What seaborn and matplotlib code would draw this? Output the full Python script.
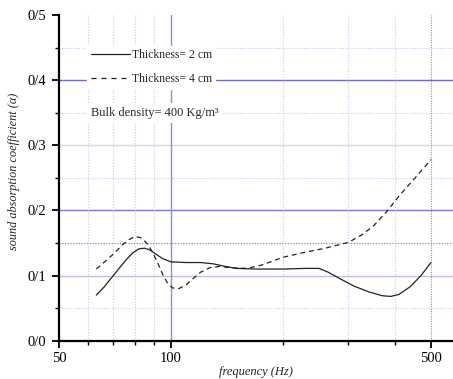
import matplotlib
matplotlib.use("Agg")
import matplotlib.pyplot as plt
import seaborn as sns
import pandas as pd
from matplotlib.lines import Line2D

# ---- data ----
freq_2cm = [63, 66, 70, 73, 76, 79, 82, 85, 88, 91, 95, 100, 110, 120, 130, 140,
            150, 170, 200, 230, 250, 265, 285, 310, 340, 370, 390, 410, 440, 470, 500]
alpha_2cm = [0.070, 0.082, 0.100, 0.113, 0.125, 0.135, 0.141, 0.142, 0.139, 0.133,
             0.126, 0.121, 0.120, 0.120, 0.118, 0.114, 0.111, 0.110, 0.110, 0.111,
             0.111, 0.105, 0.095, 0.084, 0.075, 0.069, 0.068, 0.071, 0.083, 0.100, 0.120]

freq_4cm = [63, 66, 70, 74, 77, 80, 83, 86, 89, 92, 95, 98, 101, 105, 110, 115,
            120, 127, 135, 145, 160, 175, 200, 230, 260, 300, 325, 350, 380, 410,
            450, 500]
alpha_4cm = [0.110, 0.120, 0.133, 0.147, 0.155, 0.160, 0.158, 0.150, 0.137, 0.120,
             0.102, 0.088, 0.081, 0.080, 0.086, 0.096, 0.105, 0.112, 0.114, 0.112,
             0.111, 0.116, 0.128, 0.136, 0.142, 0.151, 0.162, 0.176, 0.198, 0.222,
             0.248, 0.278]

labels = ["Thickness= 2 cm", "Thickness= 4 cm"]
y_ticks = [0.0, 0.1, 0.2, 0.3, 0.4, 0.5]
y_ticklabels = ["0/0", "0/1", "0/2", "0/3", "0/4", "0/5"]
x_ticks = [50, 100, 500]
x_ticklabels = ["50", "100", "500"]
annotation = "Bulk density= 400 Kg/m³"

df = pd.concat([
    pd.DataFrame({"freq": freq_2cm, "alpha": alpha_2cm, "series": labels[0]}),
    pd.DataFrame({"freq": freq_4cm, "alpha": alpha_4cm, "series": labels[1]}),
])

sns.set_theme(style="white")
plt.rcParams["font.family"] = ["Liberation Serif", "DejaVu Serif"]

fig = plt.figure(figsize=(4.53, 3.79), dpi=100)
ax = fig.add_axes([59 / 453, 38.3 / 379, 394 / 453, 325.7 / 379])
ax.set_xscale("log")
ax.set_xlim(50, 573)
ax.set_ylim(0, 0.5)

# grid lines
major_y_col = {0.1: "#c0c0e4", 0.2: "#7a7ad6", 0.3: "#d4d4f0", 0.4: "#6c6cd2"}
for yv, c in major_y_col.items():
    ax.axhline(yv, color=c, lw=1.0, zorder=0)
for yv in [0.05, 0.25, 0.35, 0.45]:
    ax.axhline(yv, color="#c8c8ec", lw=0.8, ls=(0, (1, 1.5)), zorder=0)
ax.axhline(0.15, color="#8686c8", lw=0.9, ls=(0, (1, 1.2)), zorder=0)
for xv in [60, 70, 80, 90, 200, 300, 400]:
    ax.axvline(xv, color="#c8c8ec", lw=0.8, ls=(0, (1, 1.5)), zorder=0)
ax.axvline(100, color="#8e8ed6", lw=1.0, zorder=0)
ax.axvline(500, color="#8a8ad0", lw=0.8, ls=(0, (1, 1.2)), zorder=0)

sns.lineplot(data=df, x="freq", y="alpha", style="series",
             dashes={labels[0]: "", labels[1]: (4, 3)},
             color="#222222", linewidth=0.9, ax=ax, legend=False, zorder=3)

# ticks
ax.set_yticks(y_ticks)
ax.set_yticklabels(y_ticklabels)
ax.set_yticks([0.05, 0.15, 0.25, 0.35, 0.45], minor=True)
ax.set_xticks(x_ticks)
ax.set_xticklabels(x_ticklabels)
ax.set_xticks([60, 70, 80, 90, 200, 300, 400], minor=True)
ax.xaxis.set_minor_formatter(matplotlib.ticker.NullFormatter())
ax.tick_params(axis="both", which="major", direction="out", length=5, width=1.3,
               colors="black", labelsize=10.5, pad=4, bottom=True, left=True)
ax.tick_params(axis="both", which="minor", direction="out", length=3, width=1.0,
               colors="black", bottom=True, left=True)
ax.tick_params(axis="x", which="major", pad=3)

for s in ["top", "right"]:
    ax.spines[s].set_visible(False)
for s in ["left", "bottom"]:
    ax.spines[s].set_color("black")
    ax.spines[s].set_linewidth(1.6)

ax.set_xlabel("frequency (Hz)", fontstyle="italic", fontsize=9, labelpad=1)
ax.set_ylabel("sound absorption coefficient (α)", fontstyle="italic", fontsize=8.8,
              labelpad=1)
ax.yaxis.set_label_coords(-0.098, 0.52)

handles = [Line2D([], [], color="#222222", lw=0.9),
           Line2D([], [], color="#222222", lw=0.9, dashes=(4, 4))]
leg = ax.legend(handles, labels, loc="upper left", bbox_to_anchor=(0.072, 0.905),
                frameon=True, fontsize=8.5, handlelength=3.3, handletextpad=0.15,
                labelspacing=1.0, borderpad=0.3, borderaxespad=0)
leg.get_frame().set_facecolor("white")
leg.get_frame().set_edgecolor("white")
leg.get_frame().set_alpha(1)
leg.get_frame().set_boxstyle("square", pad=0)
leg.set_zorder(5)

ax.text(0.08, 0.70, annotation, transform=ax.transAxes, fontsize=9,
        va="center", ha="left",
        bbox=dict(facecolor="white", edgecolor="none", pad=3), zorder=5)

fig.savefig("out.png", dpi=100)
